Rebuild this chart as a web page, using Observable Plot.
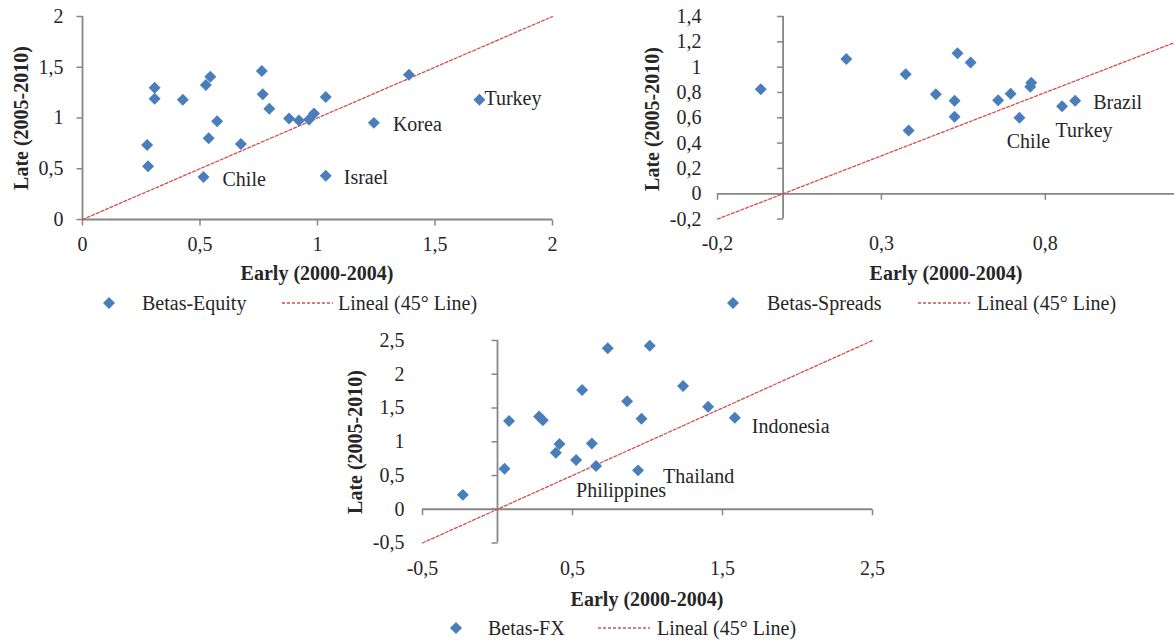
<!DOCTYPE html>
<html><head><meta charset="utf-8">
<script src="https://cdn.jsdelivr.net/npm/d3@7"></script>
<script src="https://cdn.jsdelivr.net/npm/@observablehq/plot@0.6"></script>
<style>
html,body{margin:0;padding:0;background:#fff;}
body{width:1174px;height:644px;position:relative;overflow:hidden;font-family:"Liberation Serif",serif;color:#262626;}
.chart{position:absolute;}
.title{position:absolute;font-weight:bold;font-size:20px;white-space:nowrap;line-height:1;}
.ytitle{transform:translate(-50%,-50%) rotate(-90deg);}
.xtitle{transform:translate(-50%,-50%);}
.leg{position:absolute;font-size:20px;white-space:nowrap;line-height:1;transform:translateY(-50%);}
.legsym{position:absolute;transform:translate(-50%,-50%);}
</style></head><body>
<script>
// ---------- DATA ----------
// Panel 1: Betas-Equity
const equityEarly = [0.275,0.279,0.307,0.307,0.427,0.525,0.544,0.537,0.573,0.515,0.674,0.763,0.767,0.795,0.879,0.921,0.964,0.985,1.035,1.035,1.240,1.389,1.689];
const equityLate  = [0.733,0.524,1.297,1.190,1.180,1.326,1.406,0.800,0.968,0.418,0.743,1.463,1.234,1.090,0.995,0.975,0.985,1.045,1.207,0.431,0.952,1.425,1.179];
const equityNames = ["","","","","","","","","","Chile","","","","","","","","","","Israel","Korea","","Turkey"];
const equityTicks = [0,0.5,1,1.5,2];

// Panel 2: Betas-Spreads
const spreadsEarly = [-0.068,0.193,0.374,0.383,0.466,0.523,0.523,0.532,0.572,0.656,0.694,0.721,0.757,0.754,0.851,0.891];
const spreadsLate  = [0.826,1.065,0.944,0.500,0.786,0.734,0.608,1.110,1.036,0.739,0.789,0.600,0.876,0.845,0.691,0.734];
const spreadsNames = ["","","","","","","","","","","","Chile","","","Turkey","Brazil"];
const spreadsTicksX = [-0.2,0.3,0.8];
const spreadsTicksY = [-0.2,0,0.2,0.4,0.6,0.8,1,1.2,1.4];

// Panel 3: Betas-FX
const fxEarly = [-0.231,0.047,0.077,0.277,0.302,0.389,0.413,0.524,0.564,0.629,0.657,0.735,0.864,0.937,0.960,1.015,1.237,1.404,1.582];
const fxLate  = [0.213,0.601,1.306,1.374,1.320,0.837,0.966,0.730,1.768,0.975,0.641,2.384,1.601,0.576,1.340,2.423,1.827,1.517,1.355];
const fxNames = ["","","","","","","","","","","Philippines","","","Thailand","","","","","Indonesia"];
const fxTicksX = [-0.5,0.5,1.5,2.5];
const fxTicksY = [-0.5,0,0.5,1,1.5,2,2.5];

const xTitle = "Early (2000-2004)";
const yTitle = "Late (2005-2010)";
const lineLegend = "Lineal (45° Line)";

// ---------- STYLE ----------
const pointColor = "#4A7EBB";
const lineColor = "#D2504C";
const axisColor = "#868686";
const textColor = "#262626";
const fmt = d => String(d).replace(".", ",");
const tickLeft = {draw(ctx){ ctx.moveTo(0,0); ctx.lineTo(-6,0); }};
const tickDown = {draw(ctx){ ctx.moveTo(0,0); ctx.lineTo(0,6); }};

function panel(cfg) {
  const data = cfg.early.map((e,i) => ({early: e, late: cfg.late[i], name: cfg.names[i]}));
  const diag = [cfg.xDomain[0], cfg.xDomain[1]];
  const labelMarks = data.filter(d => d.name).map(d => {
    const s = cfg.labelStyle[d.name];
    return Plot.text([d], {x: "early", y: "late", text: "name", dx: s.dx, dy: s.dy,
      textAnchor: s.anchor, fill: textColor, fontSize: 20});
  });
  const chart = Plot.plot({
    width: cfg.width, height: cfg.height,
    marginLeft: cfg.m[0], marginRight: cfg.m[1], marginTop: cfg.m[2], marginBottom: cfg.m[3],
    style: {fontFamily: "'Liberation Serif', serif", fontSize: "20px", color: textColor, background: "transparent", overflow: "visible"},
    x: {domain: cfg.xDomain, label: null},
    y: {domain: cfg.yDomain, label: null},
    marks: [
      Plot.axisX(cfg.ticksX, {anchor: "bottom", tickSize: 0, tickPadding: cfg.xPad, tickFormat: fmt, label: null, fill: textColor}),
      Plot.axisY(cfg.ticksY, {anchor: "left", tickSize: 0, tickPadding: cfg.yPad, tickFormat: fmt, label: null, fill: textColor}),
      Plot.ruleX([0], {stroke: axisColor, strokeWidth: 1.8}),
      Plot.ruleY([0], {stroke: axisColor, strokeWidth: 1.8}),
      Plot.dot(cfg.ticksY, {x: () => 0, y: d => d, symbol: tickLeft, stroke: axisColor, fill: "none", strokeWidth: 1.5}),
      Plot.dot(cfg.ticksX, {x: d => d, y: () => 0, symbol: tickDown, stroke: axisColor, fill: "none", strokeWidth: 1.5}),
      Plot.line(diag, {x: d => d, y: d => d, stroke: lineColor, strokeWidth: 1.3, strokeDasharray: "3,2"}),
      Plot.dot(data, {x: "early", y: "late", symbol: "diamond2", r: 5.4, fill: pointColor, stroke: "none"}),
      ...labelMarks
    ]
  });
  chart.classList.add("chart");
  chart.style.left = cfg.left + "px";
  chart.style.top = cfg.top + "px";
  document.body.appendChild(chart);

  const yt = document.createElement("div");
  yt.className = "title ytitle"; yt.textContent = yTitle;
  yt.style.left = cfg.yTitle[0] + "px"; yt.style.top = cfg.yTitle[1] + "px";
  document.body.appendChild(yt);
  const xt = document.createElement("div");
  xt.className = "title xtitle"; xt.textContent = xTitle;
  xt.style.left = cfg.xTitle[0] + "px"; xt.style.top = cfg.xTitle[1] + "px";
  document.body.appendChild(xt);

  // legend
  const L = cfg.legend;
  const ns = "http://www.w3.org/2000/svg";
  const dsvg = document.createElementNS(ns, "svg");
  dsvg.setAttribute("width", 14); dsvg.setAttribute("height", 14);
  dsvg.setAttribute("class", "legsym");
  dsvg.style.left = L.diamond + "px"; dsvg.style.top = L.y + "px";
  const poly = document.createElementNS(ns, "polygon");
  poly.setAttribute("points", "7,1 13,7 7,13 1,7");
  poly.setAttribute("fill", pointColor);
  dsvg.appendChild(poly);
  document.body.appendChild(dsvg);
  const t1 = document.createElement("div");
  t1.className = "leg"; t1.textContent = cfg.seriesName;
  t1.style.left = L.text1 + "px"; t1.style.top = L.y + "px";
  document.body.appendChild(t1);
  const lsvg = document.createElementNS(ns, "svg");
  const lw = L.line2 - L.line1;
  lsvg.setAttribute("width", lw); lsvg.setAttribute("height", 4);
  lsvg.style.position = "absolute";
  lsvg.style.left = L.line1 + "px"; lsvg.style.top = (L.y - 2) + "px";
  const ln = document.createElementNS(ns, "line");
  ln.setAttribute("x1", 0); ln.setAttribute("x2", lw);
  ln.setAttribute("y1", 2); ln.setAttribute("y2", 2);
  ln.setAttribute("stroke", lineColor); ln.setAttribute("stroke-width", 1.3);
  ln.setAttribute("stroke-dasharray", "3,2");
  lsvg.appendChild(ln);
  document.body.appendChild(lsvg);
  const t2 = document.createElement("div");
  t2.className = "leg"; t2.textContent = lineLegend;
  t2.style.left = L.text2 + "px"; t2.style.top = L.y + "px";
  document.body.appendChild(t2);
}

panel({
  early: equityEarly, late: equityLate, names: equityNames, seriesName: "Betas-Equity",
  xDomain: [0, 2], yDomain: [0, 2], ticksX: equityTicks, ticksY: equityTicks,
  left: 0, top: 0, width: 580, height: 290, m: [82, 28, 16, 71], xPad: 17, yPad: 19,
  yTitle: [21, 118], xTitle: [317, 273],
  legend: {y: 303, diamond: 109, text1: 142, line1: 282, line2: 333, text2: 338},
  labelStyle: {
    Chile: {dx: 19, dy: 3, anchor: "start"},
    Israel: {dx: 18, dy: 2, anchor: "start"},
    Korea: {dx: 19, dy: 2, anchor: "start"},
    Turkey: {dx: 5, dy: -1, anchor: "start"}
  }
});

panel({
  early: spreadsEarly, late: spreadsLate, names: spreadsNames, seriesName: "Betas-Spreads",
  xDomain: [-0.2, 1.2], yDomain: [-0.2, 1.4], ticksX: spreadsTicksX, ticksY: spreadsTicksY,
  left: 600, top: 0, width: 576, height: 290, m: [117, 0, 16, 71.4], xPad: 17, yPad: 16,
  yTitle: [652, 119], xTitle: [946, 273],
  legend: {y: 303, diamond: 733, text1: 767, line1: 918, line2: 970, text2: 977},
  labelStyle: {
    Brazil: {dx: 18, dy: 2, anchor: "start"},
    Turkey: {dx: 22, dy: 24, anchor: "middle"},
    Chile: {dx: 9, dy: 24, anchor: "middle"}
  }
});

panel({
  early: fxEarly, late: fxLate, names: fxNames, seriesName: "Betas-FX",
  xDomain: [-0.5, 2.5], yDomain: [-0.5, 2.5], ticksX: fxTicksX, ticksY: fxTicksY,
  left: 330, top: 320, width: 560, height: 324, m: [92, 18, 20, 101.5], xPad: 18, yPad: 18,
  yTitle: [355, 442], xTitle: [647, 599],
  legend: {y: 628, diamond: 456, text1: 488, line1: 598, line2: 650, text2: 657},
  labelStyle: {
    Indonesia: {dx: 17, dy: 9, anchor: "start"},
    Thailand: {dx: 25, dy: 6, anchor: "start"},
    Philippines: {dx: 25, dy: 25, anchor: "middle"}
  }
});
</script>
</body></html>
